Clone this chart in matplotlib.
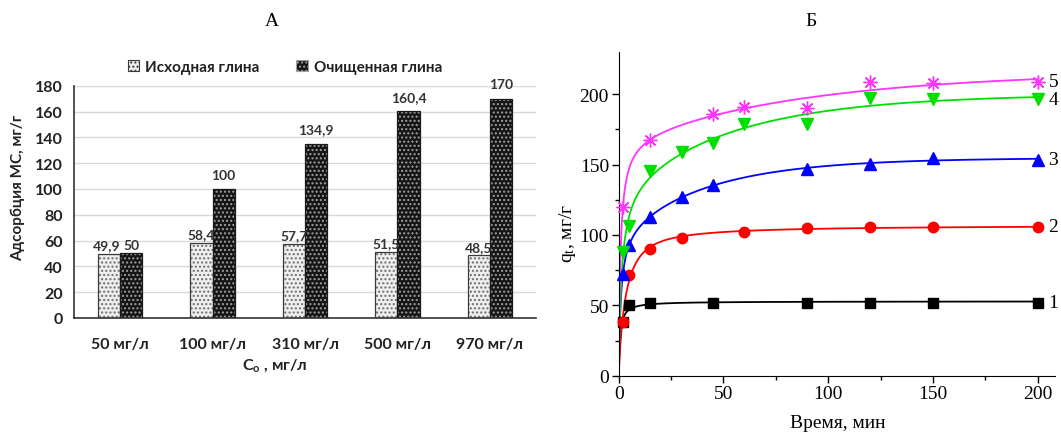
import numpy as np
import matplotlib
matplotlib.use("Agg")
import matplotlib.pyplot as plt
from matplotlib.patches import Patch

# ---------------- data: panel A ----------------
categories = ["50 мг/л", "100 мг/л", "310 мг/л", "500 мг/л", "970 мг/л"]
raw_clay = [49.9, 58.4, 57.7, 51.5, 48.5]
purified_clay = [50, 100, 134.9, 160.4, 170]
raw_labels = ["49,9", "58,4", "57,7", "51,5", "48,5"]
purified_labels = ["50", "100", "134,9", "160,4", "170"]
series_names = ["Исходная глина", "Очищенная глина"]

# ---------------- data: panel Б ----------------
t1 = [0, 2, 5, 15, 45, 90, 120, 150, 200]
q1 = [0, 38, 50.4, 51.8, 52, 52, 52, 52, 52]
t2 = [0, 2, 5, 15, 30, 60, 90, 120, 150, 200]
q2 = [0, 38.5, 71.7, 90, 97.6, 101.8, 104.7, 106, 106, 106]
t3 = [0, 2, 5, 15, 30, 45, 90, 120, 150, 200]
q3 = [0, 72, 92.8, 112.9, 127, 135.7, 146.8, 150.4, 154.5, 153.5]
t4 = [0, 2, 5, 15, 30, 45, 60, 90, 120, 150, 200]
q4 = [0, 87.6, 106.5, 145.6, 158.7, 165.3, 178.8, 178.8, 197, 196.5, 196.5]
t5 = [0, 2, 15, 45, 60, 90, 120, 150, 200]
q5 = [0, 120, 167.4, 185.9, 190.6, 190.1, 209, 207.7, 209]
curve_names = ["1", "2", "3", "4", "5"]

W, H = 1061, 435
fig = plt.figure(figsize=(W / 100, H / 100), dpi=100)
plt.rcParams["hatch.linewidth"] = 1.0

def px(x0, y0, x1, y1):
    # pixel box (left, top, right, bottom) -> figure fraction
    return [x0 / W, 1 - y1 / H, (x1 - x0) / W, (y1 - y0) / H]

SANS = ["Lato", "DejaVu Sans"]
SERIF = ["Liberation Serif", "DejaVu Serif"]

# ================= Panel A =================
axA = fig.add_axes(px(74, 86.7, 536, 319))
x = np.arange(len(categories))
bw = 0.24
xl = x - bw / 2
xr = x + bw / 2
axA.bar(xl, raw_clay, bw, color="#eeeeee", hatch="....", edgecolor="#6e6e6e", linewidth=0, zorder=2)
axA.bar(xr, purified_clay, bw, color="#151515", hatch="....", edgecolor="#a0a0a0", linewidth=0, zorder=2)
axA.bar(xl, raw_clay, bw, fill=False, edgecolor="#3a3a3a", linewidth=0.9, zorder=3)
axA.bar(xr, purified_clay, bw, fill=False, edgecolor="#1a1a1a", linewidth=0.9, zorder=3)

for xi, v, lbl in zip(xl, raw_clay, raw_labels):
    axA.annotate(lbl, (xi, v), xytext=(-2 if lbl == "49,9" else 0, 2), textcoords="offset points",
                 ha="center", va="bottom", fontsize=10, fontweight="bold", family=SANS, color="#333333")
for xi, v, lbl in zip(xr, purified_clay, purified_labels):
    axA.annotate(lbl, (xi, v), xytext=(0, 6 if v > 60 else 2), textcoords="offset points",
                 ha="center", va="bottom", fontsize=10, fontweight="bold", family=SANS, color="#333333")

axA.set_xlim(-0.5, len(categories) - 0.5)
axA.set_ylim(0, 180)
axA.set_yticks(np.arange(0, 181, 20))
axA.set_xticks(x)
axA.set_xticklabels(categories)
axA.yaxis.grid(True, color="#d9d9d9", linewidth=1, zorder=0)
axA.set_axisbelow(True)
for s in ["top", "right"]:
    axA.spines[s].set_visible(False)
axA.spines["left"].set_color("#333333")
axA.spines["bottom"].set_color("#333333")
axA.spines["left"].set_linewidth(1.2)
axA.spines["bottom"].set_linewidth(1.2)
axA.tick_params(length=0, pad=8)
axA.tick_params(axis="x", pad=14)
for lab in axA.get_xticklabels() + axA.get_yticklabels():
    lab.set_family(SANS)
    lab.set_fontweight("bold")
    lab.set_fontsize(11.5)
    lab.set_color("#222222")

fig.text(18 / W, 1 - 188 / H, "Адсорбция МС, мг/г", rotation=90, ha="center", va="center",
         family=SANS, fontweight="bold", fontsize=11, color="#222222")
fig.text(275 / W, 1 - 366 / H, r"$\mathregular{C_o}$ , мг/л", ha="center", va="center",
         family=SANS, fontweight="bold", fontsize=11.5, color="#222222")

handles = [Patch(facecolor="#eeeeee", edgecolor="#3a3a3a", hatch="....", linewidth=0.8),
           Patch(facecolor="#151515", edgecolor="#a0a0a0", hatch="....", linewidth=0.8)]
leg = fig.legend(handles, series_names, loc="center", bbox_to_anchor=(285 / W, 1 - 68 / H), ncol=2,
                 frameon=False, handlelength=0.75, handleheight=0.75, handletextpad=0.4,
                 columnspacing=2.4, prop={"family": SANS, "weight": "bold", "size": 11})
for txt in leg.get_texts():
    txt.set_color("#222222")

fig.text(272 / W, 1 - 22 / H, "А", ha="center", va="center", family=SERIF, fontsize=14)

# ================= Panel Б =================
axB = fig.add_axes(px(618.7, 53, 1055, 376.7))

def fit_curve(t, q):
    # least-squares fit: hyperbolic fast stage + exponential slow stage (non-negative amplitudes)
    t = np.asarray(t, float)
    q = np.asarray(q, float)
    best = None
    for b in np.geomspace(0.2, 40, 70):
        for tau in np.geomspace(5, 400, 70):
            A = np.column_stack([t / (b + t), 1 - np.exp(-t / tau)])
            coef, *_ = np.linalg.lstsq(A, q, rcond=None)
            if np.any(coef < 0):
                c0 = np.dot(A[:, 0], q) / np.dot(A[:, 0], A[:, 0])
                coef = np.array([c0, 0.0])
            err = np.sum((A @ coef - q) ** 2)
            if best is None or err < best[0]:
                best = (err, b, tau, coef)
    _, b, tau, coef = best
    return lambda tt: coef[0] * tt / (b + tt) + coef[1] * (1 - np.exp(-tt / tau))

series = [
    (t1, q1, "#000000", "s", 6.5, dict()),
    (t2, q2, "#ff0000", "o", 7.5, dict()),
    (t3, q3, "#0000ff", "^", 8, dict()),
    (t4, q4, "#00e000", "v", 8, dict()),
    (t5, q5, "#ff33ff", (8, 2, 0), 10, dict(markeredgewidth=1.0)),
]
tt = np.linspace(0, 200, 1000)
for (t, q, c, m, ms, kw), name in zip(series, curve_names):
    f = fit_curve(t, q)
    axB.plot(tt, f(tt), color=c, linewidth=1.3, zorder=2)
    axB.plot(t[1:], q[1:], linestyle="none", marker=m, markersize=ms, color=c,
             markeredgecolor=c, zorder=3, clip_on=False, **kw)
    axB.text(207.5, q[-1], name, ha="center", va="center", family=SERIF, fontsize=14,
             clip_on=False)

axB.set_xlim(0, 208.3)
axB.set_ylim(0, 230)
axB.set_xticks([0, 50, 100, 150, 200])
axB.set_xticks([25, 75, 125, 175], minor=True)
axB.set_yticks([0, 50, 100, 150, 200])
axB.set_yticks([25, 75, 125, 175], minor=True)
for s in ["top", "right"]:
    axB.spines[s].set_visible(False)
axB.tick_params(which="major", direction="out", length=5, width=1, labelsize=14, pad=2)
axB.tick_params(which="minor", direction="out", length=3, width=1)
for lab in axB.get_xticklabels() + axB.get_yticklabels():
    lab.set_family(SERIF)

fig.text(567 / W, 1 - 233 / H, r"$\mathregular{q_t}$, мг/г", rotation=90, ha="center", va="center",
         family=SERIF, fontsize=14)
fig.text(838 / W, 1 - 424 / H, "Время, мин", ha="center", va="center", family=SERIF, fontsize=14)
fig.text(811 / W, 1 - 22 / H, "Б", ha="center", va="center", family=SERIF, fontsize=14)

fig.savefig("out.png", dpi=100)
